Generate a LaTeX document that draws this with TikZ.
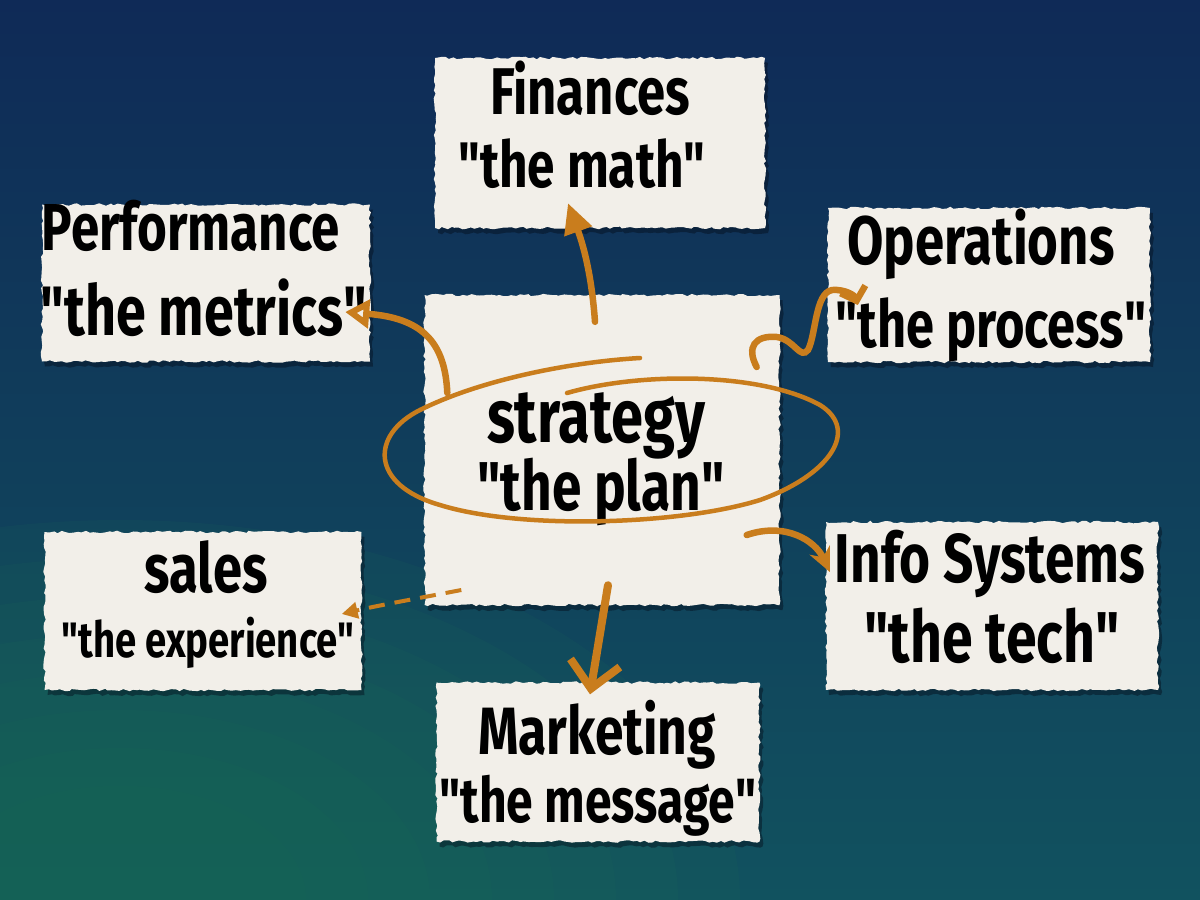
\documentclass[tikz,border=0pt]{standalone}
\usepackage{fontspec}
\setmainfont{Fira Sans}
\usepackage{graphicx}
\usetikzlibrary{decorations.pathmorphing,arrows.meta,shadows,calc}
\definecolor{paper}{HTML}{F2EFE9}
\definecolor{arr}{HTML}{C97D1D}
\definecolor{navy}{HTML}{0F2A57}
\definecolor{midbg}{HTML}{0D4263}
\definecolor{lowbg}{HTML}{11525F}
\definecolor{tealbg}{HTML}{1C6E55}
\newcommand\fitw[2]{\scalebox{1}[1.3]{\resizebox{#1pt}{!}{\bfseries #2}}}
\newcommand\qq{\textquotedbl}
\begin{document}
\begin{tikzpicture}[x=1pt,y=-1pt,
  paperbox/.style={fill=paper, inner sep=0pt, decorate,
    decoration={random steps,segment length=4pt,amplitude=1.3pt},
    general shadow={fill=black!70!navy, opacity=.45, shadow xshift=3pt, shadow yshift=-5pt}},
  lbl/.style={anchor=base, inner sep=0pt, text=black},
  con/.style={draw=arr, line width=6.5pt, line cap=round}
]
\useasboundingbox (0,0) rectangle (1200,900);
\shade[top color=navy, middle color=midbg, bottom color=lowbg] (0,0) rectangle (1200,900);
\begin{scope}
  \clip (0,0) rectangle (1200,900);
  \foreach \r in {1.0,0.9,...,0.2}{
    \fill[tealbg, opacity=0.12] (120,900) ellipse ({620*\r} and {380*\r});
  }
\end{scope}

% boxes
\node[paperbox, minimum width=330pt, minimum height=170pt] (fin) at (600,143) {};
\node[paperbox, minimum width=328pt, minimum height=157pt] (perf) at (206,283) {};
\node[paperbox, minimum width=322pt, minimum height=154pt] (ops) at (989,285) {};
\node[paperbox, minimum width=355pt, minimum height=310pt] (strat) at (602,450) {};
\node[paperbox, minimum width=317pt, minimum height=158pt] (sales) at (203,611) {};
\node[paperbox, minimum width=332pt, minimum height=168pt] (info) at (992,606) {};
\node[paperbox, minimum width=323pt, minimum height=159pt] (mkt) at (598,762) {};

% labels
\node[lbl] (fin1) at (590,114) {\fitw{200}{Finances}};
\node[lbl] (fin2) at (582,187) {\fitw{247}{\qq the math\qq}};
\node[lbl] (perf1) at (191,250) {\fitw{298}{Performance}};
\node[lbl] (perf2) at (204,335) {\fitw{326}{\qq the metrics\qq}};
\node[lbl] (ops1) at (981,264) {\fitw{267}{Operations}};
\node[lbl] (ops2) at (991,347) {\fitw{311}{\qq the process\qq}};
\node[lbl] (strat1) at (596,442) {\fitw{218}{strategy}};
\node[lbl] (strat2) at (601,510) {\fitw{247}{\qq the plan\qq}};
\node[lbl] (sales1) at (206,592) {\fitw{123}{sales}};
\node[lbl] (sales2) at (208,657) {\fitw{293}{\qq the experience\qq}};
\node[lbl] (info1) at (990,582) {\fitw{310}{Info Systems}};
\node[lbl] (info2) at (992,662) {\fitw{255}{\qq the tech\qq}};
\node[lbl] (mkt1) at (597,754) {\fitw{238}{Marketing}};
\node[lbl] (mkt2) at (598,822) {\fitw{317}{\qq the message\qq}};

% ellipse loop around strategy
\draw[draw=arr, line width=4.5pt, line cap=round]
  (567,393) .. controls (640,372) and (760,372) .. (820,405)
  .. controls (860,430) and (830,475) .. (760,500)
  .. controls (680,525) and (520,530) .. (440,505)
  .. controls (370,485) and (370,435) .. (420,410)
  .. controls (480,380) and (570,362) .. (640,358);

% connectors
\draw[con, -{Triangle[length=30pt,width=28pt]}]
  ($(strat.north)+(-7,27)$) .. controls (592,280) and (585,250) .. ($(fin.south)+(-32,-25)$);
\draw[con, -{Triangle[open,length=24pt,width=28pt]}]
  ($(strat.west)+(23,-57)$) .. controls (445,340) and (420,318) .. ($(perf.east)+(-25,29)$);
\draw[con, -{Straight Barb[length=12pt,width=26pt]}]
  ($(strat.east)+(-23,-83)$) .. controls (746,347) and (755,335) .. (777,337)
  .. controls (795,340) and (800,360) .. (808,350)
  .. controls (816,335) and (815,293) .. (832,290)
  .. controls (846,289) and (855,296) .. ($(ops.west)+(30,20)$);
\draw[con, -{Stealth[length=24pt,width=22pt]}]
  ($(strat.east)+(-33,85)$) .. controls (785,522) and (815,540) .. ($(info.west)+(4,-34)$);
\draw[draw=arr, line width=4pt, dash pattern=on 16pt off 10pt, -{Triangle[length=16pt,width=16pt]}]
  ($(strat.west)+(37,140)$) .. controls (420,598) and (380,605) .. ($(sales.east)+(-20,3)$);
\draw[draw=arr, line width=8pt, line cap=round, line join=round, -{Straight Barb[length=26pt,width=50pt]}]
  ($(strat.south)+(6,-20)$) -- ($(mkt.north)+(-8,12)$);
\end{tikzpicture}
\end{document}
